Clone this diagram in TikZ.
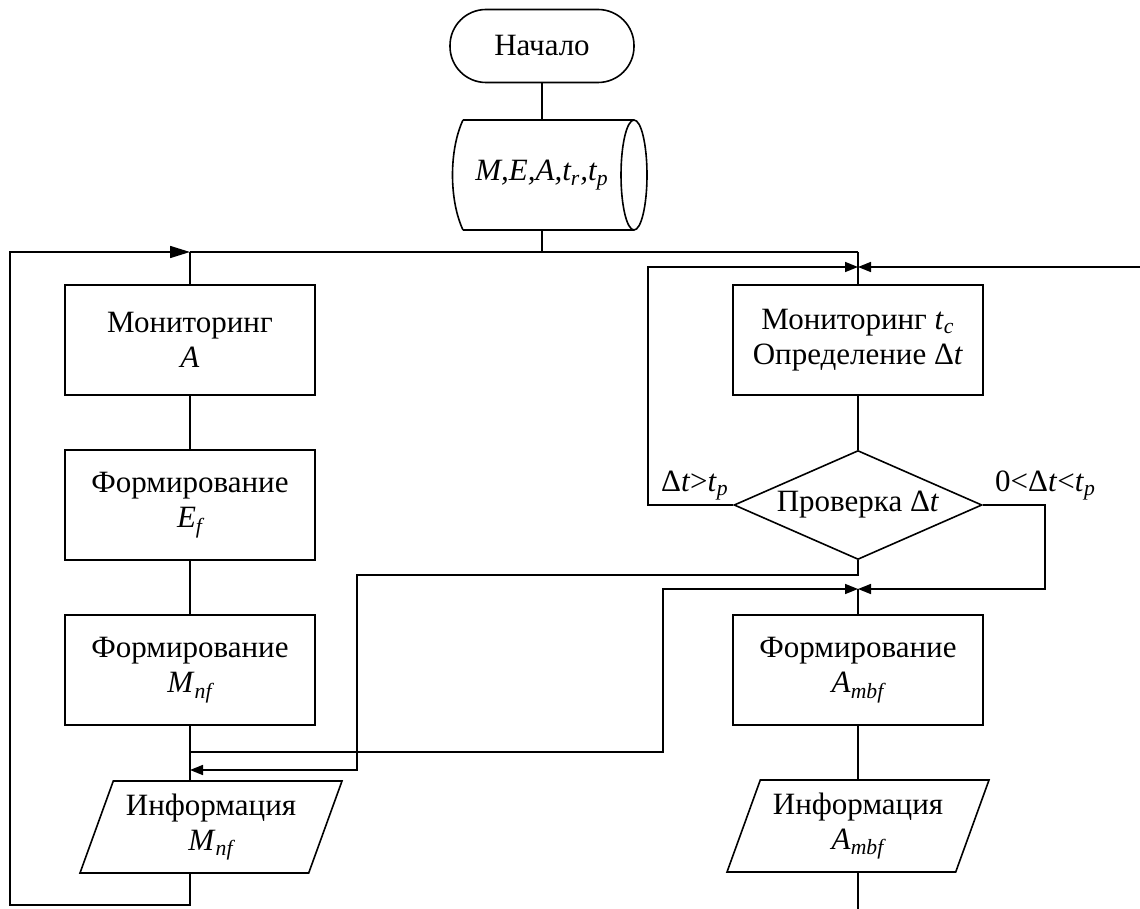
\documentclass[tikz,border=0pt]{standalone}
\usepackage{fontspec}
\setmainfont{Liberation Serif}
\usetikzlibrary{shapes.geometric,arrows.meta}
\newcommand{\lo}[1]{\textsubscript{\itshape #1}}

\tikzstyle{block}=[rectangle,draw,line width=0.8pt,minimum width=125pt,minimum height=55pt,inner sep=0pt,align=center]
\tikzstyle{terminal}=[rectangle,draw,line width=0.8pt,rounded corners=18pt,minimum width=92pt,minimum height=36.5pt]
\tikzstyle{decision}=[diamond,draw,line width=0.8pt,shape aspect=2.27,minimum width=124pt,minimum height=54.5pt,inner sep=0pt]
\tikzstyle{io}=[trapezium,draw,line width=0.8pt,trapezium left angle=63.4,trapezium right angle=116.6,minimum width=131pt,minimum height=46pt,inner sep=0pt,align=center,trapezium stretches body]
\tikzstyle{edge}=[draw,line width=0.8pt,-]
\tikzstyle{flow edge}=[draw,line width=0.8pt,-{Triangle[length=6.5pt,width=5pt]}]
\tikzstyle{loop edge}=[draw,line width=0.8pt,-{Triangle[length=10pt,width=6pt]}]

\begin{document}
\begin{tikzpicture}[x=0.5pt,y=-0.5pt,font=\fontsize{15.5}{17.5}\selectfont]
	\useasboundingbox (0,0) rectangle (1140,909);
	% First we draw the blocks
	\node[terminal] (start) at (542,46) {Начало};
	\node[minimum height=55pt,inner sep=0pt] (data) at (542,175) {\textit{M,E,A,t\lo{r},t\lo{p}}};
	\draw[line width=0.8pt] (463,120) -- (634,120) (463,230) -- (634,230)
		(463,120) .. controls (449,150) and (449,200) .. (463,230)
		(634,175) ellipse [x radius=13,y radius=55];
	\node[block] (mon) at (190,340) {Мониторинг\\\textit{A}};
	\node[block] (formE) at (190,505) {Формирование\\\textit{E}\lo{f}};
	\node[block] (formM) at (190,670) {Формирование\\\textit{M}\lo{nf}};
	\node[io] (infoM) at (211,827) {Информация\\\textit{M}\lo{nf}};
	\node[block] (monT) at (858,340) {Мониторинг \textit{t}\lo{c}\\Определение Δ\textit{t}};
	\node[decision] (check) at (858,505) {Проверка Δ\textit{t}};
	\node[block] (formA) at (858,670) {Формирование\\\textit{A}\lo{mbf}};
	\node[io] (infoA) at (858,826) {Информация\\\textit{A}\lo{mbf}};
	% branch labels
	\node[anchor=south east,inner sep=0pt] (over) at ([xshift=-2pt,yshift=2pt]check.west) {Δ\textit{t}>\textit{t}\lo{p}};
	\node[anchor=south west,inner sep=0pt] (under) at ([xshift=6pt,yshift=2pt]check.east) {0<Δ\textit{t}<\textit{t}\lo{p}};
	% junction points
	\coordinate (busL) at (190,252);
	\coordinate (busR) at (858,252);
	\coordinate (joinT) at (858,267);
	\coordinate (joinA) at (858,589);
	\coordinate (joinM) at (190,770);
	\coordinate (splitM) at (190,752);
	\coordinate (inR) at (1140,267);
	\coordinate (outR) at (858,909);
	\coordinate (loopL) at (10,905);
	\coordinate (loopT) at (648,267);
	\coordinate (loopB) at (1045,589);
	\coordinate (loopC) at (663,589);
	\coordinate (jump) at (357,575);
	% Connect blocks with edges
	\foreach \source/\dest in {start/data, busL/mon, mon/formE, formE/formM, busR/monT, monT/check, joinA/formA, formA/infoA, infoA/outR}
		\path[edge] (\source) -- (\dest);
	\path[edge] (data) -- (data |- busL);
	\path[edge] (busL) -- (busR);
	\path[edge] (formM.south) -- (formM.south |- infoM.north);
	% loops and returns
	\path[loop edge] (infoM.south -| formM) |- (loopL) |- (busL);
	\path[flow edge] (inR) -- (joinT);
	\path[flow edge] (check.west) -| (loopT) -- (joinT);
	\path[flow edge] (check.south) |- (jump) |- (joinM);
	\path[flow edge] (check.east) -| (loopB) -- (joinA);
	\path[flow edge] (splitM) -| (loopC) -- (joinA);
\end{tikzpicture}
\end{document}
